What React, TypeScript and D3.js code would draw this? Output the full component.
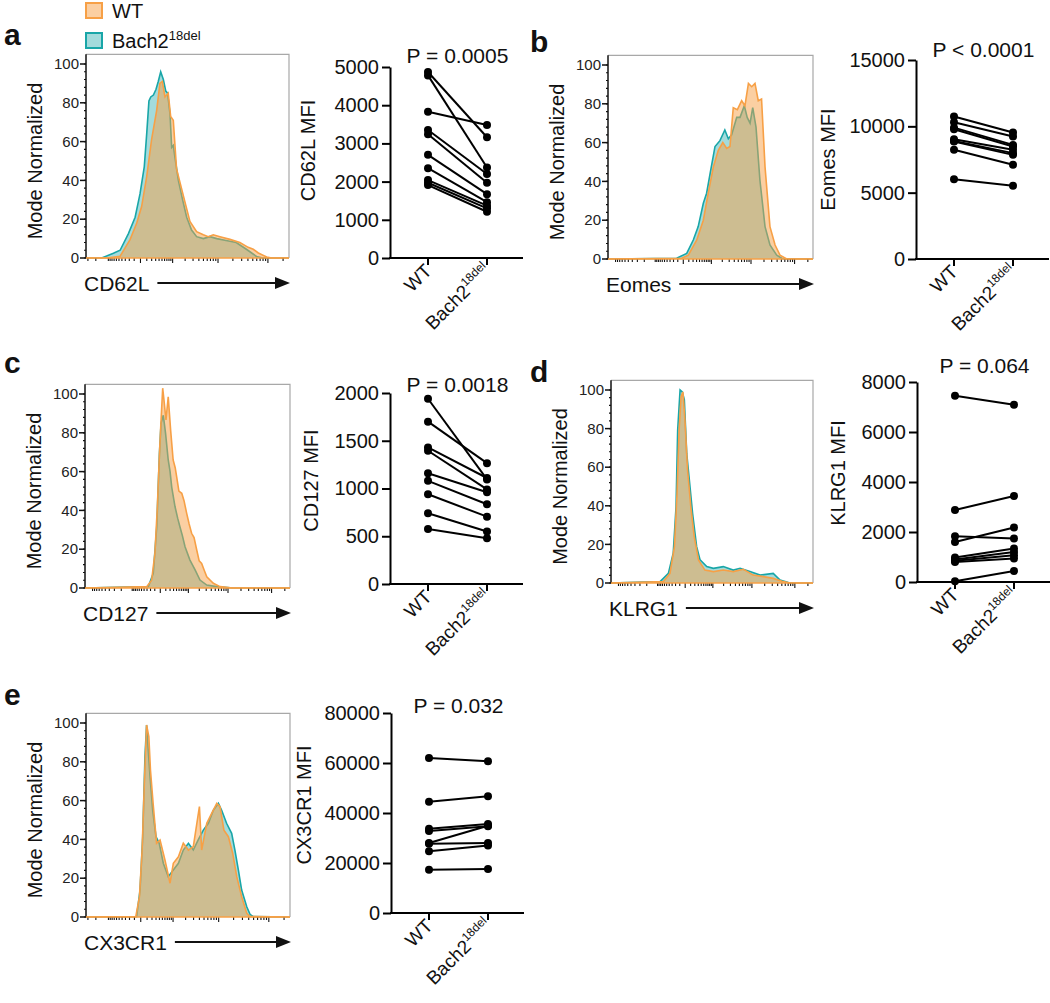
import React, { useEffect, useRef } from 'react';
import * as d3 from 'd3';

const FONT = '"Liberation Sans", Arial, Helvetica, sans-serif';
const ORANGE = '#f7a046';
const TEAL = '#19a6a8';

// histogram traces: [channel (0-100 along the axis), % of mode]
const cd62lHistWT = [[10,0],[16.8,0.9],[21.7,9.5],[25,18],[27.4,26.5],[29.9,42],[32.3,61],[34.8,76],[36.4,90],[37.6,91],[38.9,83],[40.5,85],[41.7,73],[43,71],[44.6,46],[46.3,39],[48.7,29],[51.2,18.8],[54.5,13.6],[57.8,12],[60.2,11],[62.7,12],[66,11],[70.9,9.6],[75.8,8],[79.9,5.5],[82.4,4.5],[84.9,2.6],[89,0.5],[91.5,0]];
const cd62lHistBach2 = [[7.7,0],[13.5,2.4],[16.8,4],[20.9,12.6],[24.2,21],[26.6,33],[28.7,47],[29.9,64],[31,81],[31.9,83],[33.2,84],[34.5,87],[35.6,91],[36.8,96],[38.1,92],[39.3,86],[40.2,85],[41.4,74],[42.2,57],[43,58],[43.8,52],[45.5,40],[47.6,30],[49.6,21],[52,14.4],[54.5,11],[57.8,10],[61,11],[64.4,10],[69,9],[74,8],[79,4.5],[84,0.8],[87,0]];

const eomesHistWT = [[35.9,0.4],[39.2,2],[43.3,9.8],[46.5,20],[48.9,34],[51.4,47.5],[53.8,56],[56,60],[57.9,57],[59.5,58],[61.1,78],[63.1,77],[65.2,81.6],[66.8,79],[68.5,90.5],[70.1,88.8],[71.7,90.5],[73.3,81.6],[74.9,82.5],[76.6,47.5],[79,16.7],[81.5,7.2],[83.9,2],[87.2,0]];
const eomesHistBach2 = [[33.5,0.4],[38.4,2.9],[41.6,9.8],[44,16.7],[46.5,28.7],[48.1,33.9],[49.8,44],[52.2,58],[54.6,61],[57,66.5],[58.7,62],[60.3,64],[62.8,73],[64.4,73],[66.5,79],[67.9,73],[69.3,70],[70.6,78],[72.2,68],[74.1,40.7],[76.6,16.7],[79,7.2],[82.3,2],[84.7,0.4],[86,0]];

const cd127HistWT = [[30.1,0.7],[32.5,4],[34.1,17.9],[35.3,42],[36.3,69],[37.1,86.6],[37.9,103],[38.7,95],[39.5,86.6],[40.6,98.6],[41.8,81],[43,66],[44,62],[44.7,57.4],[45.8,50],[47.2,48.8],[48.3,45],[49.6,38.5],[50.8,33],[52,28.2],[53.2,26],[54.5,19.6],[55.7,14],[56.9,12.7],[58.2,9],[59.4,5.8],[62.6,2.4],[65.9,0.7],[72,0]];
const cd127HistBach2 = [[30.9,0.7],[33.3,7.6],[35,31.6],[36.3,69],[37.1,84.9],[38.2,89],[39.3,79.7],[40.6,66],[41.5,60],[42.3,52],[43.9,42],[45.2,36],[46.3,31.6],[47.5,27],[48.8,21.3],[51.2,14.4],[53.7,9.3],[56.1,4.1],[59.4,1.5],[64.2,0.7],[72,0]];

const klrg1HistWT = [[25.9,0.7],[29.2,5],[31.4,18.8],[32.7,46.5],[33.7,79],[34.7,96.5],[35.6,99],[36.6,84.5],[37.9,58.5],[39.5,39.5],[41.2,24],[43.3,12],[46.5,6.7],[50.7,5.9],[55.6,6.7],[60.5,5.9],[65.5,7.1],[70.4,4.1],[75.4,3.3],[80.3,2.4],[85.3,0.7],[88.6,0]];
const klrg1HistBach2 = [[24.3,0.7],[28.4,5],[30.8,15.4],[32.2,39.5],[33,79],[34.2,100],[35.3,99],[36.3,95],[37.5,67],[39.1,50],[40.4,36],[42.4,18.8],[44.1,12],[47.4,8.5],[50.7,7.6],[55.6,8.5],[60.5,6.7],[63.9,7.6],[68.8,5.9],[73.8,4.1],[80.3,5],[83.7,1.5],[87.8,0.3],[90,0]];

const cx3cr1HistWT = [[24.4,0.2],[26.2,10.5],[27.5,34.5],[28.6,69],[29.7,99],[30.8,93],[31.6,75.8],[32.9,58.6],[34.6,38],[36.3,39.7],[38.7,29.4],[41.2,17.4],[42.8,27.7],[45.3,31],[47.7,38],[50.2,34.5],[52.6,36.3],[55.6,56.9],[56.7,34.5],[59.2,48.3],[61.6,53.4],[64.1,58.6],[65.7,56.9],[67.6,44.8],[69.8,41.4],[71.9,32.9],[73.9,20.8],[76.3,10.5],[78.8,1.9],[80.4,0.2]];
const cx3cr1HistBach2 = [[24.8,0.2],[26.5,13.9],[27.8,41.4],[28.9,82.6],[29.7,99],[30.5,86],[31.4,72.3],[32.7,55],[34.3,41.4],[35.9,38],[37.9,27.7],[40.3,20.8],[42.8,24.2],[45.3,27.7],[47.7,34.5],[50.2,38],[52.6,34.5],[55,39.7],[57.5,44.8],[60,48.3],[62.4,55],[64.9,58.6],[66.5,55],[68.9,48.3],[71.4,43.1],[73,34.5],[74.7,24.2],[76.3,13.9],[78.8,5.3],[80.4,1.4],[82,0.2]];

// paired MFI values, one entry per mouse
const groups = ['WT', 'Bach2'];
const cd62lMfiWT = [4870, 4780, 3830, 3350, 3240, 2700, 2350, 2040, 1970, 1910];
const cd62lMfiBach2 = [3160, 2370, 3480, 2200, 1970, 1670, 1460, 1370, 1300, 1210];
const eomesMfiWT = [10740, 10310, 9900, 9780, 9030, 8900, 8850, 8230, 6020];
const eomesMfiBach2 = [9530, 9230, 8600, 8480, 8230, 7980, 7850, 7100, 5520];
const cd127MfiWT = [1940, 1700, 1430, 1395, 1160, 1080, 940, 740, 575];
const cd127MfiBach2 = [1095, 1265, 1110, 990, 960, 835, 705, 550, 480];
const klrg1MfiWT = [7450, 2880, 1830, 1600, 980, 900, 850, 800, 30];
const klrg1MfiBach2 = [7090, 3440, 1740, 2180, 1340, 1200, 1070, 940, 440];
const cx3cr1MfiWT = [62000, 44500, 33700, 32800, 28000, 27700, 24700, 17300];
const cx3cr1MfiBach2 = [60700, 46700, 35600, 34700, 34900, 28000, 27000, 17600];

const histPanels = [
  { letter: 'a', lx: 4, ly: 45, marker: 'CD62L', wt: cd62lHistWT, ko: cd62lHistBach2, x0: 86, x1: 289, y0: 258, y100: 64, fMin: -3300 },
  { letter: 'b', lx: 530, ly: 52, marker: 'Eomes', wt: eomesHistWT, ko: eomesHistBach2, x0: 608, x1: 813, y0: 259, y100: 65, fMin: -15000 },
  { letter: 'c', lx: 4, ly: 373, marker: 'CD127', wt: cd127HistWT, ko: cd127HistBach2, x0: 85, x1: 290, y0: 588, y100: 394, fMin: -15000 },
  { letter: 'd', lx: 530, ly: 382, marker: 'KLRG1', wt: klrg1HistWT, ko: klrg1HistBach2, x0: 611, x1: 813, y0: 583, y100: 390, fMin: -15000 },
  { letter: 'e', lx: 4, ly: 705, marker: 'CX3CR1', wt: cx3cr1HistWT, ko: cx3cr1HistBach2, x0: 86, x1: 290, y0: 917, y100: 723, fMin: -3300 },
];

const pairedPanels = [
  { title: 'CD62L MFI', wt: cd62lMfiWT, ko: cd62lMfiBach2, max: 5000, step: 1000, ax: 390, y0: 258, yTop: 67, p: 'P = 0.0005', pDy: -4, tx: -75, ty: -12 },
  { title: 'Eomes MFI', wt: eomesMfiWT, ko: eomesMfiBach2, max: 15000, step: 5000, ax: 916, y0: 259, yTop: 60, p: 'P < 0.0001', pDy: -3, tx: -81, ty: 0 },
  { title: 'CD127 MFI', wt: cd127MfiWT, ko: cd127MfiBach2, max: 2000, step: 500, ax: 390, y0: 584, yTop: 393, p: 'P = 0.0018', pDy: -1, tx: -72, ty: -8 },
  { title: 'KLRG1 MFI', wt: klrg1MfiWT, ko: klrg1MfiBach2, max: 8000, step: 2000, ax: 917, y0: 582, yTop: 382, p: 'P = 0.064', pDy: -9, tx: -72, ty: -9 },
  { title: 'CX3CR1 MFI', wt: cx3cr1MfiWT, ko: cx3cr1MfiBach2, max: 80000, step: 20000, ax: 391, y0: 913, yTop: 713, p: 'P = 0.032', pDy: 0, tx: -80, ty: -8 },
];

function drawHist(svg, p) {
  const g = svg.append('g');
  const x = d3.scaleLinear().domain([0, 100]).range([p.x0, p.x1]);
  const y = d3.scaleLinear().domain([0, 100]).range([p.y0, p.y100]);
  // fluorescence scale (biexponential-like) for the bottom tick marks
  const fl = d3.scaleSymlog().constant(300).domain([p.fMin, 262144]).range([p.x0, p.x1]);

  const yTop = y(105);
  g.append('path')
    .attr('d', `M${p.x0},${yTop}H${p.x1}V${p.y0}`)
    .attr('fill', 'none').attr('stroke', '#a8a8a8').attr('stroke-width', 1.2);

  const pad = (arr) => [[0, 0], ...arr, [100, 0]];
  const area = d3.area().x(d => x(d[0])).y0(y(0)).y1(d => y(d[1]));
  const line = d3.line().x(d => x(d[0])).y(d => y(d[1]));

  g.append('path').attr('d', area(pad(p.ko))).attr('fill', TEAL).attr('fill-opacity', 0.4);
  g.append('path').attr('d', line(pad(p.ko))).attr('fill', 'none').attr('stroke', TEAL).attr('stroke-width', 1.6);
  g.append('path').attr('d', area(pad(p.wt))).attr('fill', ORANGE).attr('fill-opacity', 0.5);
  g.append('path').attr('d', line(pad(p.wt))).attr('fill', 'none').attr('stroke', ORANGE).attr('stroke-width', 1.6);

  // y axis
  const yAxis = g.append('g').attr('transform', `translate(${p.x0},0)`);
  yAxis.append('line').attr('x1', 0).attr('x2', 0).attr('y1', yTop).attr('y2', p.y0)
    .attr('stroke', '#111').attr('stroke-width', 1.5);
  d3.range(0, 101, 4).forEach(v => {
    yAxis.append('line').attr('x1', -2).attr('x2', 0).attr('y1', y(v)).attr('y2', y(v))
      .attr('stroke', '#111').attr('stroke-width', 1.2);
  });
  d3.range(0, 101, 20).forEach(v => {
    yAxis.append('line').attr('x1', -6).attr('x2', 0).attr('y1', y(v)).attr('y2', y(v))
      .attr('stroke', '#111').attr('stroke-width', 1.5);
    yAxis.append('text').attr('x', -7).attr('y', y(v)).attr('dy', '0.35em')
      .attr('text-anchor', 'end').style('font-size', '15px').attr('fill', '#222').text(v);
  });
  g.append('text')
    .attr('transform', `translate(${p.x0 - 44},${y(50)}) rotate(-90)`)
    .attr('text-anchor', 'middle').style('font-size', '20px').attr('fill', '#111')
    .text('Mode Normalized');

  // x axis with log-ish ticks
  const ticks = [0];
  [100, 1000, 10000, 100000].forEach(dec => {
    for (let k = 1; k <= 9; k++) {
      const v = dec * k;
      if (v <= 262144) ticks.push(v);
      if (-v >= p.fMin) ticks.push(-v);
    }
  });
  const major = new Set([0, 1000, 10000, 100000]);
  g.selectAll('.xt').data(ticks).enter().append('line')
    .attr('x1', d => fl(d)).attr('x2', d => fl(d))
    .attr('y1', p.y0).attr('y2', d => p.y0 + (major.has(d) ? 5 : 3))
    .attr('stroke', '#111').attr('stroke-width', 1.1);
  g.append('line').attr('x1', p.x0).attr('x2', p.x1).attr('y1', p.y0).attr('y2', p.y0)
    .attr('stroke', ORANGE).attr('stroke-width', 1.6);

  const lbl = g.append('text').attr('x', p.x0 - 2).attr('y', p.y0 + 33)
    .style('font-size', '21px').attr('fill', '#111').text(p.marker);
  const lw = lbl.node().getComputedTextLength();
  const ay = p.y0 + 25;
  g.append('line').attr('x1', p.x0 + lw + 6).attr('x2', p.x1 - 10).attr('y1', ay).attr('y2', ay)
    .attr('stroke', '#111').attr('stroke-width', 1.8);
  g.append('path').attr('d', `M${p.x1 - 14},${ay - 6}L${p.x1 + 1},${ay}L${p.x1 - 14},${ay + 6}Z`).attr('fill', '#111');

  svg.append('text').attr('x', p.lx).attr('y', p.ly)
    .style('font-size', '30px').style('font-weight', 'bold').attr('fill', '#111').text(p.letter);
}

function drawPaired(svg, p) {
  const g = svg.append('g');
  const x = d3.scalePoint().domain(groups).range([p.ax + 38, p.ax + 97]);
  const y = d3.scaleLinear().domain([0, p.max]).range([p.y0, p.yTop]);

  const axis = g.append('g').attr('transform', `translate(${p.ax},0)`)
    .call(d3.axisLeft(y).tickValues(d3.range(0, p.max + 1, p.step)).tickFormat(d3.format('d'))
      .tickSize(8).tickSizeOuter(0).tickPadding(3));
  axis.select('.domain').attr('stroke-width', 2);
  axis.selectAll('.tick line').attr('stroke-width', 2);
  axis.selectAll('.tick text').style('font-size', '20px').style('font-family', FONT).attr('fill', '#111');

  g.append('line').attr('x1', p.ax - 1).attr('x2', p.ax + 133).attr('y1', p.y0).attr('y2', p.y0)
    .attr('stroke', '#000').attr('stroke-width', 2);
  groups.forEach(k => {
    g.append('line').attr('x1', x(k)).attr('x2', x(k)).attr('y1', p.y0).attr('y2', p.y0 + 7)
      .attr('stroke', '#000').attr('stroke-width', 2);
    const t = g.append('text')
      .attr('transform', `translate(${x(k) + 5},${p.y0 + 14}) rotate(-45)`)
      .attr('text-anchor', 'end').style('font-size', '19px').attr('fill', '#111');
    if (k === 'WT') t.text('WT');
    else {
      t.append('tspan').text('Bach2');
      t.append('tspan').attr('dy', -8).style('font-size', '12px').text('18del');
    }
  });

  const pairs = p.wt.map((v, i) => [v, p.ko[i]]);
  g.selectAll('.pair').data(pairs).enter().append('line')
    .attr('x1', x('WT')).attr('x2', x('Bach2'))
    .attr('y1', d => y(d[0])).attr('y2', d => y(d[1]))
    .attr('stroke', '#000').attr('stroke-width', 2);
  pairs.forEach(d => {
    g.append('circle').attr('cx', x('WT')).attr('cy', y(d[0])).attr('r', 4).attr('fill', '#000');
    g.append('circle').attr('cx', x('Bach2')).attr('cy', y(d[1])).attr('r', 4).attr('fill', '#000');
  });

  g.append('text').attr('x', (x('WT') + x('Bach2')) / 2).attr('y', p.yTop + p.pDy)
    .attr('text-anchor', 'middle').style('font-size', '21px').attr('fill', '#111').text(p.p);
  g.append('text')
    .attr('transform', `translate(${p.ax + p.tx},${(p.y0 + p.yTop) / 2 + p.ty}) rotate(-90)`)
    .attr('text-anchor', 'middle').style('font-size', '20px').attr('fill', '#111').text(p.title);
}

function drawLegend(svg) {
  const items = [
    { name: 'WT', color: ORANGE, op: 0.5, y: 2 },
    { name: 'Bach2', sup: '18del', color: TEAL, op: 0.4, y: 32 },
  ];
  items.forEach(it => {
    svg.append('rect').attr('x', 86).attr('y', it.y + 1).attr('width', 16).attr('height', 15)
      .attr('fill', it.color).attr('fill-opacity', it.op).attr('stroke', it.color).attr('stroke-width', 2);
    const t = svg.append('text').attr('x', 112).attr('y', it.y + 16).style('font-size', '20px').attr('fill', '#111');
    t.append('tspan').text(it.name);
    if (it.sup) t.append('tspan').attr('dy', -8).style('font-size', '13px').text(it.sup);
  });
}

export default function App() {
  const ref = useRef(null);
  useEffect(() => {
    const svg = d3.select(ref.current);
    svg.selectAll('*').remove();
    svg.style('font-family', FONT);
    drawLegend(svg);
    histPanels.forEach(p => drawHist(svg, p));
    pairedPanels.forEach(p => drawPaired(svg, p));
  }, []);
  return (
    <svg ref={ref} width={1050} height={1003}
      style={{ position: 'absolute', left: 0, top: 0, background: '#fff' }} />
  );
}
